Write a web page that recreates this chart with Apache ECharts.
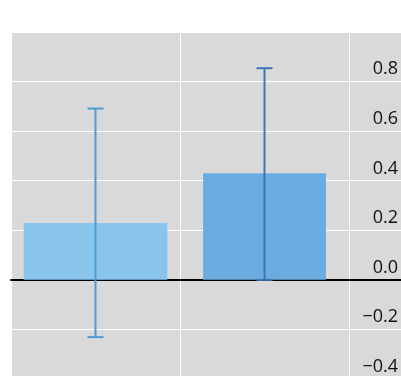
<!DOCTYPE html>
<html>
<head>
<meta charset="utf-8">
<script src="https://cdn.jsdelivr.net/npm/echarts@6/dist/echarts.min.js"></script>
<style>
  html, body { margin: 0; padding: 0; background: #ffffff; overflow: hidden; }
  /* the plot panel runs past the right and bottom edges of the window */
  #chart { width: 520px; height: 380px; }
</style>
</head>
<body>
<div id="chart"></div>
<script>
// Category slots (the third slot is the empty band running off the right edge)
const categories = ['Group A', 'Group B', ''];
// Bar heights (mean values)
const barValues = [0.229, 0.430];
// Error bar extents: lower and upper bounds
const errLow = [-0.231, 0.0];
const errHigh = [0.691, 0.854];
// Y axis ticks
const yTicks = [-0.4, -0.2, 0.0, 0.2, 0.4, 0.6, 0.8];

// Styling
const barColors = ['#88c4ec', '#6aace0'];
const errColors = ['#4d9cd6', '#3f74ba'];
const barFrac = [0.85, 0.727];

const chart = echarts.init(document.getElementById('chart'), null, { renderer: 'canvas' });

const barData = barValues.map((v, i) => [i, v]);
const errData = barValues.map((v, i) => [i, errLow[i], errHigh[i]]);

chart.setOption({
  animation: false,
  backgroundColor: '#ffffff',
  grid: {
    left: 11, top: 32, width: 507, height: 347,
    outerBoundsMode: 'none',
    containLabel: false,
    show: true, backgroundColor: '#d9d9d9', borderWidth: 0
  },
  xAxis: {
    type: 'category',
    data: categories,
    boundaryGap: true,
    axisLine: { show: true, onZero: true, lineStyle: { color: '#000000', width: 2 } },
    axisTick: { show: false },
    axisLabel: { show: false },
    splitLine: { show: true, interval: 0, lineStyle: { color: '#ffffff', width: 1 } }
  },
  yAxis: {
    type: 'value',
    min: -0.4,
    max: 1.0,
    interval: 0.2,
    position: 'left',
    offset: -390,
    axisLine: { show: false },
    axisTick: { show: false },
    splitLine: { show: true, lineStyle: { color: '#ffffff', width: 1 } },
    axisLabel: {
      showMaxLabel: false,
      showMinLabel: true,
      hideOverlap: false,
      margin: 3,
      fontFamily: 'Open Sans',
      fontSize: 18,
      lineHeight: 24.5,
      color: '#111111',
      verticalAlign: 'middle',
      formatter: function (v) {
        const t = yTicks.find(k => Math.abs(k - v) < 1e-9);
        if (t === undefined) return '';
        // label sits just above its grid line
        return t.toFixed(1).replace('-', '\u2212') + '\n ';
      }
    }
  },
  series: [
    {
      type: 'custom',
      data: barData,
      encode: { x: 0, y: 1 },
      z: 2,
      renderItem: function (params, api) {
        const idx = params.dataIndex;
        const x = api.value(0);
        const v = api.value(1);
        const p0 = api.coord([x, 0]);
        const p1 = api.coord([x, v]);
        const w = api.size([1, 0])[0] * barFrac[idx];
        return {
          type: 'rect',
          shape: {
            x: p0[0] - w / 2,
            y: Math.min(p0[1], p1[1]),
            width: w,
            height: Math.abs(p1[1] - p0[1])
          },
          style: { fill: barColors[idx] }
        };
      }
    },
    {
      type: 'custom',
      data: errData,
      encode: { x: 0, y: [1, 2] },
      z: 3,
      renderItem: function (params, api) {
        const idx = params.dataIndex;
        const x = api.value(0);
        const lo = api.coord([x, api.value(1)]);
        const hi = api.coord([x, api.value(2)]);
        const cap = 8;
        const style = { stroke: errColors[idx], lineWidth: 2 };
        return {
          type: 'group',
          children: [
            { type: 'line', shape: { x1: hi[0], y1: hi[1], x2: lo[0], y2: lo[1] }, style: style },
            { type: 'line', shape: { x1: hi[0] - cap, y1: hi[1], x2: hi[0] + cap, y2: hi[1] }, style: style },
            { type: 'line', shape: { x1: lo[0] - cap, y1: lo[1], x2: lo[0] + cap, y2: lo[1] }, style: style }
          ]
        };
      }
    }
  ]
});
</script>
</body>
</html>
